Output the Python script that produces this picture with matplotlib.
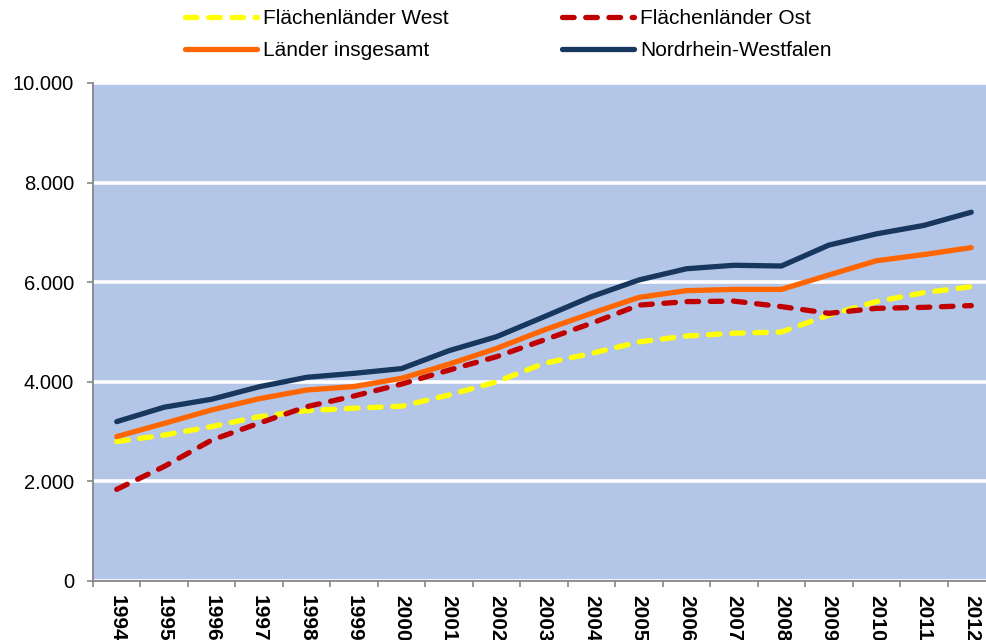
import matplotlib
matplotlib.use("Agg")
import matplotlib.pyplot as plt
from matplotlib.ticker import FuncFormatter, FixedLocator

years = [str(y) for y in range(1994, 2013)]
west = [2800, 2930, 3100, 3300, 3420, 3470, 3510, 3735, 4000, 4370, 4570, 4800, 4920, 4975, 5000, 5340, 5610, 5790, 5910]
ost = [1840, 2300, 2830, 3170, 3500, 3715, 3955, 4235, 4505, 4840, 5175, 5540, 5610, 5620, 5510, 5375, 5475, 5495, 5530]
gesamt = [2900, 3165, 3435, 3660, 3835, 3905, 4070, 4355, 4670, 5040, 5375, 5695, 5830, 5855, 5855, 6145, 6430, 6555, 6695]
nrw = [3200, 3490, 3650, 3900, 4090, 4170, 4265, 4625, 4905, 5305, 5710, 6045, 6270, 6340, 6325, 6745, 6970, 7140, 7405]

plt.rcParams['font.family'] = ['Liberation Sans', 'DejaVu Sans']

fig = plt.figure(figsize=(9.87, 6.4), dpi=100)
W, H = 987, 640
ax = fig.add_axes([93 / W, 1 - 581 / H, (995 - 93) / W, (581 - 83) / H])
ax.set_facecolor('#B4C6E7')

x = list(range(len(years)))
lw = 3.8
dash = (2.2, 2.2)
l_west, = ax.plot(x, west, color='#FFFF00', lw=lw, dashes=dash, dash_capstyle='round', label='Flächenländer West', zorder=3)
l_ost, = ax.plot(x, ost, color='#C00000', lw=lw, dashes=dash, dash_capstyle='round', label='Flächenländer Ost', zorder=3)
l_ges, = ax.plot(x, gesamt, color='#FF6600', lw=lw, solid_capstyle='round', solid_joinstyle='round', label='Länder insgesamt', zorder=4)
l_nrw, = ax.plot(x, nrw, color='#17375E', lw=lw, solid_capstyle='round', solid_joinstyle='round', label='Nordrhein-Westfalen', zorder=5)

ax.set_xlim(-0.5, len(years) - 0.5)
ax.set_ylim(0, 10000)
ax.set_yticks(range(0, 10001, 2000))
ax.yaxis.set_major_formatter(FuncFormatter(lambda v, p: f"{int(v):,}".replace(',', '.')))
ax.grid(axis='y', color='white', lw=2.6, zorder=1)
ax.set_axisbelow(True)

ax.set_xticks(x)
ax.set_xticklabels(years, rotation=270, fontweight='bold', fontsize=15)
ax.xaxis.set_minor_locator(FixedLocator([i - 0.5 for i in range(len(years) + 1)]))
ax.tick_params(axis='x', which='major', length=0, pad=10)
ax.tick_params(axis='x', which='minor', length=4, color='#868686', width=1.2)
ax.tick_params(axis='y', length=4.5, color='#868686', width=1.2, labelsize=14.5, pad=9)

for s in ['top', 'right']:
    ax.spines[s].set_visible(False)
for s in ['left', 'bottom']:
    ax.spines[s].set_color('#868686')
    ax.spines[s].set_linewidth(1.3)

fig.legend(handles=[l_west, l_ges, l_ost, l_nrw], ncol=2, frameon=False,
           loc='upper left', bbox_to_anchor=(185 / W, 1 - 9 / H), fontsize=15,
           borderpad=0, borderaxespad=0,
           handlelength=3.45, handletextpad=0.3, columnspacing=5.45, labelspacing=0.62)

fig.savefig('out.png', dpi=100)
